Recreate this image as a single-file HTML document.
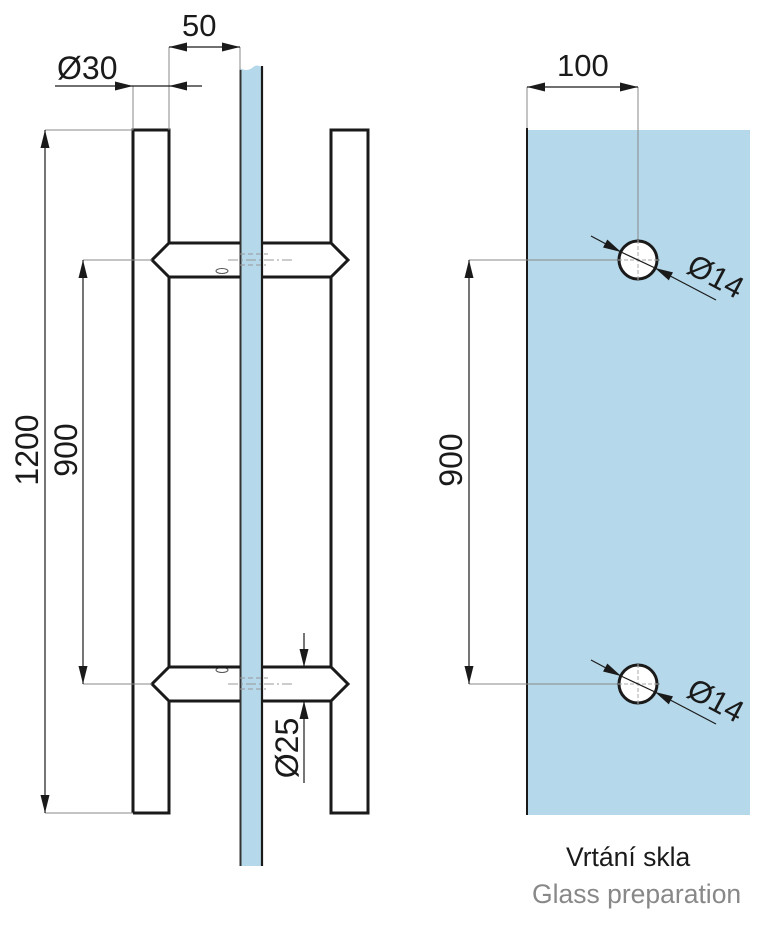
<!DOCTYPE html>
<html><head><meta charset="utf-8"><style>
body{margin:0;background:#fff;}
svg{display:block;}
text{font-family:"Liberation Sans",sans-serif;fill:#1a1a1a;}
</style></head><body>
<svg width="768" height="926" viewBox="0 0 768 926" xmlns="http://www.w3.org/2000/svg">
<defs>
<marker id="a" viewBox="0 0 18 9" refX="18" refY="4.5" markerWidth="18" markerHeight="9" markerUnits="userSpaceOnUse" orient="auto-start-reverse"><path d="M0,0 L18,4.5 L0,9 z" fill="#1a1a1a"/></marker>
</defs>
<path d="M240,68 L240,866 L262,866 L262,68 Q257,63 252,68 Q246,72 240,68 z" fill="#b5d8ea"/>
<line x1="240.5" y1="70" x2="240.5" y2="866" stroke="#333" stroke-width="2"/>
<line x1="262" y1="66" x2="262" y2="866" stroke="#1a1a1a" stroke-width="2.2"/>
<g stroke="#999" stroke-width="1" fill="none">
<line x1="228" y1="260" x2="292" y2="260" stroke-dasharray="10,3,2,3"/>
<line x1="228" y1="684" x2="292" y2="684" stroke-dasharray="10,3,2,3"/>
<line x1="240" y1="254" x2="268" y2="254" stroke-dasharray="5,3"/>
<line x1="240" y1="265" x2="266" y2="265" stroke-dasharray="5,3"/>
<line x1="240" y1="678" x2="268" y2="678" stroke-dasharray="5,3"/>
<line x1="240" y1="689" x2="266" y2="689" stroke-dasharray="5,3"/>
<ellipse cx="222" cy="271" rx="6" ry="2.5" stroke="#555"/>
<ellipse cx="222" cy="670" rx="6" ry="2.5" stroke="#555"/>
</g>
<g stroke="#1a1a1a" stroke-width="3" fill="none" stroke-linejoin="miter">
<path d="M133,813 L133,130 L169,130 L169,243"/>
<path d="M169,277 L169,667"/>
<path d="M169,701 L169,813 L133,813"/>
<path d="M240,243 L169,243 L152,260 L169,277 L240,277"/>
<path d="M240,667 L169,667 L152,684 L169,701 L240,701"/>
<path d="M331,243 L331,130 L368,130 L368,813 L331,813 L331,701"/>
<path d="M331,277 L331,667"/>
<path d="M262,243 L331,243 L348,260 L331,277 L262,277"/>
<path d="M262,667 L331,667 L348,684 L331,701 L262,701"/>
</g>
<g stroke="#888" stroke-width="1">
<line x1="45" y1="130" x2="133" y2="130"/>
<line x1="45" y1="813" x2="133" y2="813"/>
<line x1="83" y1="260" x2="152" y2="260"/>
<line x1="83" y1="684" x2="152" y2="684"/>
<line x1="133" y1="86" x2="133" y2="130"/>
<line x1="169" y1="47" x2="169" y2="130"/>
<line x1="240" y1="47" x2="240" y2="70"/>
</g>
<g stroke="#1a1a1a" stroke-width="1.2">
<line x1="45" y1="130" x2="45" y2="813" marker-start="url(#a)" marker-end="url(#a)"/>
<line x1="83" y1="260" x2="83" y2="684" marker-start="url(#a)" marker-end="url(#a)"/>
<line x1="55" y1="86" x2="133" y2="86" marker-end="url(#a)"/>
<line x1="202" y1="86" x2="169" y2="86" marker-end="url(#a)"/>
<line x1="133" y1="86" x2="169" y2="86"/>
<line x1="169" y1="47" x2="240" y2="47" marker-start="url(#a)" marker-end="url(#a)"/>
<line x1="304" y1="633" x2="304" y2="667" marker-end="url(#a)"/>
<line x1="304" y1="783" x2="304" y2="701" marker-end="url(#a)"/>
</g>
<text x="57" y="79" font-size="32">Ø30</text>
<text x="182" y="36" font-size="31">50</text>
<text transform="translate(38,450) rotate(-90)" text-anchor="middle" font-size="32">1200</text>
<text transform="translate(77,450) rotate(-90)" text-anchor="middle" font-size="32">900</text>
<text transform="translate(298,748) rotate(-90)" text-anchor="middle" font-size="32">Ø25</text>
<rect x="528" y="130" width="222" height="685" fill="#b5d8ea"/>
<line x1="527" y1="128" x2="527" y2="815" stroke="#1a1a1a" stroke-width="2"/>
<g stroke="#888" stroke-width="1">
<line x1="527" y1="87" x2="527" y2="128"/>
<line x1="638" y1="87" x2="638" y2="280"/>
<line x1="469" y1="260" x2="660" y2="260"/>
<line x1="469" y1="684" x2="660" y2="684"/>
<line x1="638" y1="664" x2="638" y2="704"/>
</g>
<g stroke="#1a1a1a" stroke-width="1.2">
<line x1="527" y1="87" x2="638" y2="87" marker-start="url(#a)" marker-end="url(#a)"/>
<line x1="469" y1="260" x2="469" y2="684" marker-start="url(#a)" marker-end="url(#a)"/>
</g>
<g>
<circle cx="638" cy="260" r="19" fill="#fff" stroke="#1a1a1a" stroke-width="3"/>
<circle cx="638" cy="684" r="19" fill="#fff" stroke="#1a1a1a" stroke-width="3"/>
<g stroke="#aaa" stroke-width="1" stroke-dasharray="4,2">
<line x1="618" y1="260" x2="660" y2="260"/><line x1="638" y1="240" x2="638" y2="281"/>
<line x1="618" y1="684" x2="660" y2="684"/><line x1="638" y1="664" x2="638" y2="705"/>
</g>
<g stroke="#1a1a1a" stroke-width="1.2">
<line x1="591" y1="236" x2="621" y2="252" marker-end="url(#a)"/>
<line x1="716" y1="300" x2="655" y2="268" marker-end="url(#a)"/>
<line x1="621" y1="252" x2="655" y2="268"/>
<line x1="591" y1="660" x2="621" y2="676" marker-end="url(#a)"/>
<line x1="716" y1="724" x2="655" y2="692" marker-end="url(#a)"/>
<line x1="621" y1="676" x2="655" y2="692"/>
</g>
</g>
<text x="557" y="76" font-size="31">100</text>
<text transform="translate(462,460) rotate(-90)" text-anchor="middle" font-size="32">900</text>
<text transform="translate(685,272) rotate(28)" font-size="31">Ø14</text>
<text transform="translate(685,696) rotate(28)" font-size="31">Ø14</text>
<text x="566" y="866" font-size="26.5">Vrtání skla</text>
<text x="532" y="903" font-size="26.5" style="fill:#888">Glass preparation</text>
</svg>
</body></html>
